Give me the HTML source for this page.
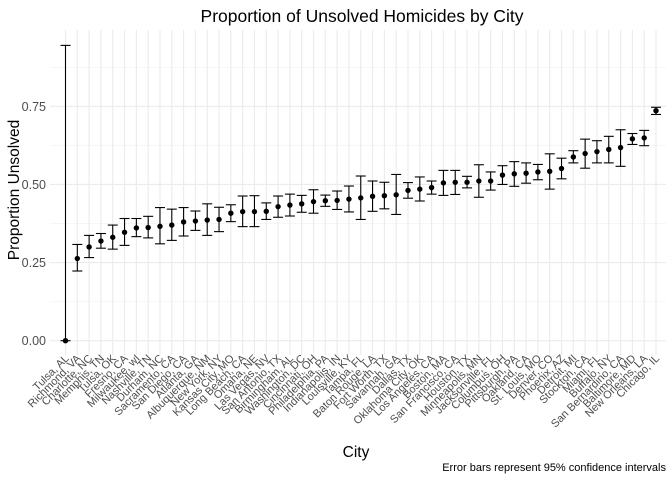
<!DOCTYPE html>
<html><head><meta charset="utf-8"><style>
body{margin:0;background:#fff;}
svg{display:block;font-family:"Liberation Sans",Arial,sans-serif;}
</style></head><body>
<svg id="chart" width="672" height="480"></svg>
<script>
const cities=["Tulsa, AL","Richmond, VA","Charlotte, NC","Memphis, TN","Tulsa, OK","Fresno, CA","Milwaukee, wI","Nashville, TN","Durham, NC","Sacramento, CA","San Diego, CA","Atlanta, GA","Albuquerque, NM","New York, NY","Kansas City, MO","Long Beach, CA","Omaha, NE","Las Vegas, NV","San Antonio, TX","Birmingham, AL","Washington, DC","Cincinnati, OH","Philadelphia, PA","Indianapolis, IN","Louisville, KY","Tampa, FL","Baton Rouge, LA","Fort Worth, TX","Savannah, GA","Dallas, TX","Oklahoma City, OK","Los Angeles, CA","Boston, MA","San Francisco, CA","Houston, TX","Minneapolis, MN","Jacksonville, FL","Columbus, OH","Pittsburgh, PA","Oakland, CA","St. Louis, MO","Denver, CO","Phoenix, AZ","Detroit, MI","Stockton, CA","Miami, FL","Buffalo, NY","San Bernardino, CA","Baltimore, MD","New Orleans, LA","Chicago, IL"];
const estimate=[0,0.263,0.300,0.319,0.331,0.347,0.361,0.362,0.366,0.370,0.380,0.383,0.386,0.388,0.408,0.413,0.413,0.414,0.429,0.434,0.438,0.445,0.448,0.449,0.453,0.457,0.462,0.464,0.467,0.481,0.485,0.490,0.505,0.507,0.507,0.511,0.511,0.530,0.534,0.536,0.540,0.542,0.551,0.588,0.599,0.605,0.612,0.618,0.646,0.649,0.736];
const ciLow=[0,0.223,0.266,0.296,0.293,0.305,0.333,0.329,0.310,0.321,0.335,0.353,0.337,0.349,0.381,0.365,0.365,0.388,0.395,0.399,0.411,0.408,0.430,0.420,0.412,0.388,0.414,0.422,0.404,0.456,0.447,0.469,0.465,0.468,0.489,0.459,0.482,0.500,0.494,0.504,0.515,0.485,0.518,0.569,0.552,0.569,0.569,0.558,0.628,0.624,0.724];
const ciHigh=[0.945,0.308,0.337,0.343,0.370,0.391,0.391,0.398,0.426,0.421,0.426,0.415,0.438,0.427,0.435,0.463,0.464,0.441,0.463,0.469,0.465,0.483,0.466,0.479,0.495,0.527,0.511,0.507,0.532,0.506,0.524,0.511,0.545,0.545,0.526,0.563,0.540,0.560,0.573,0.569,0.564,0.598,0.584,0.608,0.645,0.640,0.654,0.675,0.663,0.673,0.747];
const yTicks=[0,0.25,0.5,0.75];
const yTickLabels=["0.00","0.25","0.50","0.75"];

const NS="http://www.w3.org/2000/svg";
const svg=document.getElementById('chart');
const L=50,R=666,T=30,B=355;
const x0=65.5,dx=(656-65.5)/50;
const xs=i=>x0+i*dx;
const ys=v=>340.7-312.5*v;
function mk(t,a,p){const e=document.createElementNS(NS,t);for(const k in a)e.setAttribute(k,a[k]);(p||svg).appendChild(e);return e;}

for(let i=0;i<yTicks.length;i++){
  const v=yTicks[i]+0.125;
  if(ys(v)>T){const g=mk('line',{x1:L,x2:R,y1:ys(v),y2:ys(v),stroke:'#f2f2f2','stroke-width':0.6});
  
  }
}
yTicks.forEach((v,i)=>{
  const g=mk('line',{x1:L,x2:R,y1:ys(v),y2:ys(v),stroke:'#ebebeb','stroke-width':1.1});
  
  
  const t=mk('text',{x:46,y:ys(v)+4.5,'text-anchor':'end','font-size':12.5,fill:'#4d4d4d'});
  t.textContent=yTickLabels[i];
  
  
});
cities.forEach((c,i)=>{
  const g=mk('line',{x1:xs(i),x2:xs(i),y1:T,y2:B,stroke:'#ebebeb','stroke-width':1.1});
  
  
  const t=mk('text',{transform:`translate(${xs(i)+4},${B+4}) rotate(-45)`,'text-anchor':'end','font-size':11,fill:'#4d4d4d'});
  t.textContent=c;
  
  
});
cities.forEach((c,i)=>{
  const g=mk('g',{});
  
  
  const x=xs(i),w=5;
  mk('line',{x1:x,x2:x,y1:ys(ciLow[i]),y2:ys(ciHigh[i]),stroke:'#000','stroke-width':1.1},g);
  mk('line',{x1:x-w,x2:x+w,y1:ys(ciLow[i]),y2:ys(ciLow[i]),stroke:'#000','stroke-width':1.1},g);
  mk('line',{x1:x-w,x2:x+w,y1:ys(ciHigh[i]),y2:ys(ciHigh[i]),stroke:'#000','stroke-width':1.1},g);
  const p=mk('circle',{cx:x,cy:ys(estimate[i]),r:2.7,fill:'#000'});
  
  
});
let t=mk('text',{x:362,y:22,'text-anchor':'middle','font-size':17.5,fill:'#000'});t.textContent='Proportion of Unsolved Homicides by City';


t=mk('text',{x:356,y:457,'text-anchor':'middle','font-size':15.5,fill:'#000'});t.textContent='City';


t=mk('text',{transform:'translate(19,190) rotate(-90)','text-anchor':'middle','font-size':15.5,fill:'#000'});t.textContent='Proportion Unsolved';


t=mk('text',{x:666,y:471,'text-anchor':'end','font-size':11,fill:'#000'});t.textContent='Error bars represent 95% confidence intervals';


</script>
</body></html>
